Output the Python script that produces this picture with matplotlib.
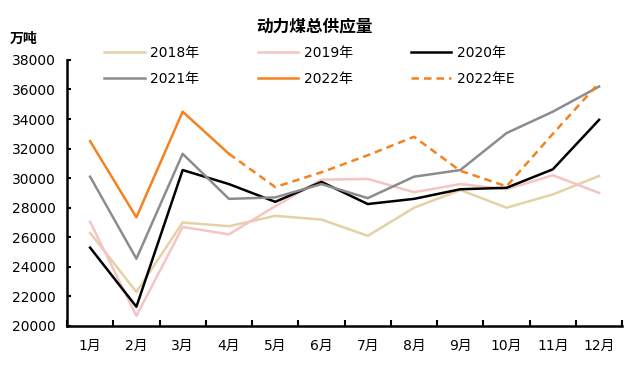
import matplotlib
matplotlib.use("Agg")
import matplotlib.pyplot as plt
from matplotlib.ticker import FixedLocator

plt.rcParams["font.family"] = ["DejaVu Sans", "Noto Sans CJK SC"]

months = ["1月", "2月", "3月", "4月", "5月", "6月", "7月", "8月", "9月", "10月", "11月", "12月"]
y2018 = [26300, 22300, 27000, 26750, 27450, 27200, 26100, 28000, 29200, 28000, 28900, 30150]
y2019 = [27050, 20680, 26700, 26200, 28100, 29900, 29950, 29050, 29600, 29250, 30200, 29000]
y2020 = [25300, 21300, 30550, 29600, 28400, 29750, 28250, 28600, 29250, 29350, 30600, 33950]
y2021 = [30100, 24550, 31650, 28600, 28700, 29600, 28650, 30100, 30550, 33050, 34500, 36200]
y2022 = [32500, 27350, 34500, 31650]
y2022e = [31650, 29400, 30400, 31550, 32800, 30500, 29450, 33000, 36450]

x = list(range(1, 13))

fig = plt.figure(figsize=(6.26, 3.70), dpi=100)
ax = fig.add_axes([0.107, 0.119, 0.887, 0.719])

l18, = ax.plot(x, y2018, color="#E5D1A6", lw=1.8, label="2018年")
l19, = ax.plot(x, y2019, color="#F5C4C4", lw=1.8, label="2019年")
l20, = ax.plot(x, y2020, color="black", lw=1.8, label="2020年")
l21, = ax.plot(x, y2021, color="#8C8C8C", lw=1.8, label="2021年")
l22, = ax.plot(x[:len(y2022)], y2022, color="#F58220", lw=1.8, label="2022年")
l22e, = ax.plot(x[3:3 + len(y2022e)], y2022e, color="#F58220", lw=1.8, ls=(0, (3, 2)), label="2022年E")

ax.set_xlim(0.5, 12.5)
ax.set_ylim(20000, 38000)
ax.set_yticks(range(20000, 38001, 2000))
ax.set_xticks(x)
ax.set_xticklabels(months)
ax.xaxis.set_minor_locator(FixedLocator([i + 0.5 for i in range(0, 13)]))
ax.tick_params(axis="x", which="major", length=0, pad=9, labelsize=10)
ax.tick_params(axis="x", which="minor", direction="in", length=4, width=1.5)
ax.tick_params(axis="y", direction="in", length=3, width=1.5, labelsize=10, pad=8)

for s in ["top", "right"]:
    ax.spines[s].set_visible(False)
for s in ["left", "bottom"]:
    ax.spines[s].set_linewidth(1.8)

# row-wise order for a 3-column legend
handles = [l18, l21, l19, l22, l20, l22e]
ax.legend(handles=handles, labels=[h.get_label() for h in handles],
          loc="upper left", bbox_to_anchor=(0.045, 1.10), ncol=3, frameon=False,
          fontsize=10, handlelength=2.9, handletextpad=0.4,
          columnspacing=4.2, labelspacing=0.9)

fig.text(0.503, 0.93, "动力煤总供应量", ha="center", va="center", fontsize=12, fontweight="bold")
fig.text(0.016, 0.895, "万吨", ha="left", va="center", fontsize=10, fontweight="bold")

fig.savefig("out.png", dpi=100)
